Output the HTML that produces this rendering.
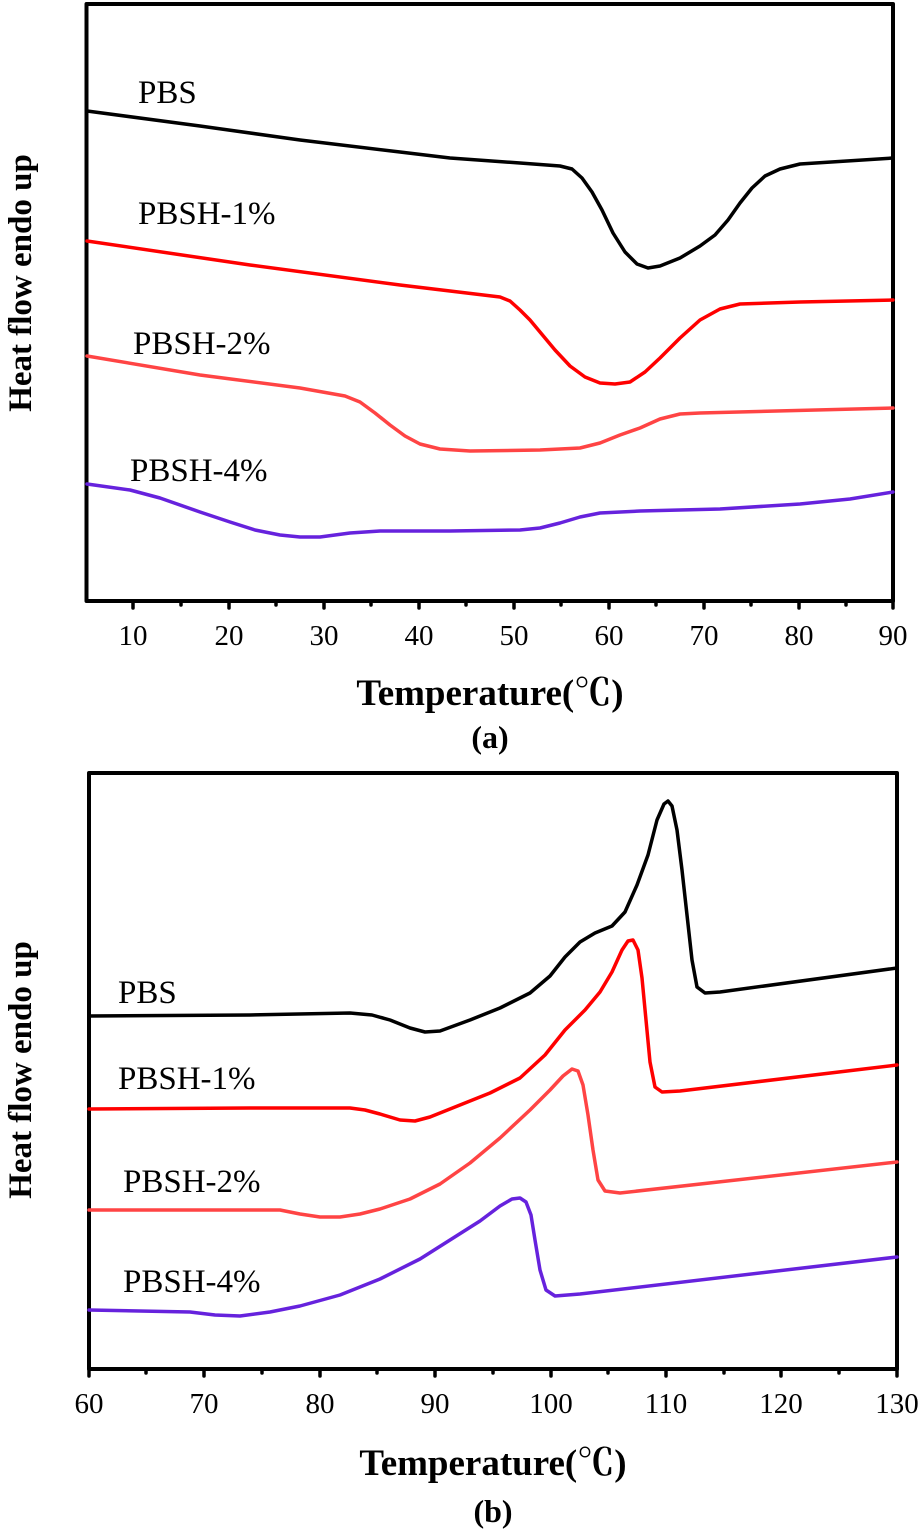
<!DOCTYPE html>
<html><head><meta charset="utf-8"><style>body{margin:0;background:#fff}svg{display:block}</style></head>
<body>
<svg width="923" height="1532" viewBox="0 0 923 1532" xmlns="http://www.w3.org/2000/svg" font-family="Liberation Serif, serif">
<g fill="none" stroke-linejoin="round" stroke-linecap="round">
<rect x="86.5" y="4" width="806.5" height="597" stroke="#000" stroke-width="4"/>
<g stroke="#000" stroke-width="3.5">
<path d="M133 601v7M229 601v7M324 601v7M419 601v7M514 601v7M609 601v7M704 601v7M799 601v7M893 601v7M181 601v4M276 601v4M371 601v4M466 601v4M561 601v4M656 601v4M751 601v4M846 601v4"/>
</g>
<g stroke-width="3.5">
<polyline stroke="#000" points="87,111 200,126 300,140 400,152 450,158 520,163 560,166 572,169 582,178 592,192 602,210 613,233 625,252 637,264 648,268 660,266 680,258 700,246 715,235 728,220 740,203 752,188 765,176 780,169 800,164 893,158"/>
<polyline stroke="#ff0000" points="87,241 250,265 400,285 500,297 510,301 520,310 530,320 540,332 555,350 570,366 585,377 600,383 615,384 630,382 645,372 660,358 680,338 700,320 720,309 740,304 800,302 893,300"/>
<polyline stroke="#ff4444" points="87,356 200,375 300,388 345,396 360,402 375,413 390,425 405,436 420,444 440,449 470,451 540,450 580,448 600,443 620,435 640,428 660,419 680,414 700,413 893,408"/>
<polyline stroke="#6622dd" points="87,484 130,490 160,498 200,512 230,522 255,530 280,535 300,537 320,537 350,533 380,531 450,531 520,530 540,528 560,523 580,517 600,513 640,511 720,509 800,504 850,499 893,492"/>
</g>
<rect x="89" y="773" width="808" height="596" stroke="#000" stroke-width="4"/>
<g stroke="#000" stroke-width="3.5">
<path d="M89 1369v7M204 1369v7M320 1369v7M435 1369v7M551 1369v7M666 1369v7M781 1369v7M897 1369v7M146 1369v4M262 1369v4M377 1369v4M493 1369v4M608 1369v4M724 1369v4M839 1369v4"/>
</g>
<g stroke-width="3.5">
<polyline stroke="#000" points="89,1016 250,1015 350,1013 372,1015 390,1020 410,1028 425,1032 440,1031 470,1020 500,1008 530,993 550,976 565,957 580,942 595,933 612,926 625,912 637,885 648,855 657,820 664,804 668,801 672,806 677,830 682,870 687,915 692,960 697,987 705,993 720,992 897,968"/>
<polyline stroke="#ff0000" points="89,1109 250,1108 350,1108 365,1110 380,1114 400,1120 415,1121 430,1117 460,1105 490,1093 520,1078 545,1055 565,1030 585,1010 600,992 612,972 622,950 628,941 633,940 638,950 642,978 646,1020 650,1062 655,1087 662,1092 680,1091 897,1065"/>
<polyline stroke="#ff4444" points="89,1210 200,1210 280,1210 300,1214 320,1217 340,1217 360,1214 380,1209 410,1199 440,1184 470,1163 500,1138 530,1110 550,1090 563,1076 572,1069 578,1071 583,1085 588,1115 593,1150 598,1180 605,1191 620,1193 897,1162"/>
<polyline stroke="#6622dd" points="89,1310 190,1312 215,1315 240,1316 270,1312 300,1306 340,1295 380,1279 420,1259 450,1240 480,1221 500,1206 512,1199 520,1198 526,1202 531,1215 535,1240 540,1270 546,1290 555,1296 580,1294 897,1257"/>
</g>
</g>
<g font-size="29" fill="#000" text-anchor="middle">
<text x="133" y="645">10</text><text x="229" y="645">20</text><text x="324" y="645">30</text><text x="419" y="645">40</text><text x="514" y="645">50</text><text x="609" y="645">60</text><text x="704" y="645">70</text><text x="799" y="645">80</text><text x="893" y="645">90</text>
<text x="89" y="1413">60</text><text x="204" y="1413">70</text><text x="320" y="1413">80</text><text x="435" y="1413">90</text><text x="551" y="1413">100</text><text x="666" y="1413">110</text><text x="781" y="1413">120</text><text x="897" y="1413">130</text>
</g>
<g font-size="33" fill="#000">
<text x="138" y="103">PBS</text><text x="138" y="224">PBSH-1%</text><text x="133" y="354">PBSH-2%</text><text x="130" y="481">PBSH-4%</text>
<text x="118" y="1003">PBS</text><text x="118" y="1089">PBSH-1%</text><text x="123" y="1192">PBSH-2%</text><text x="123" y="1292">PBSH-4%</text>
</g>
<g font-size="37" font-weight="bold" fill="#000" text-anchor="middle">
<text x="490" y="705">Temperature(<tspan font-family="Noto Serif CJK SC, serif">℃</tspan>)</text>
<text x="490" y="748" font-size="32">(a)</text>
<text x="493" y="1475">Temperature(<tspan font-family="Noto Serif CJK SC, serif">℃</tspan>)</text>
<text x="493" y="1522" font-size="32">(b)</text>
<text transform="translate(31,283) rotate(-90)" font-size="33">Heat flow endo up</text>
<text transform="translate(31,1070) rotate(-90)" font-size="33">Heat flow endo up</text>
</g>
</svg>
</body></html>
